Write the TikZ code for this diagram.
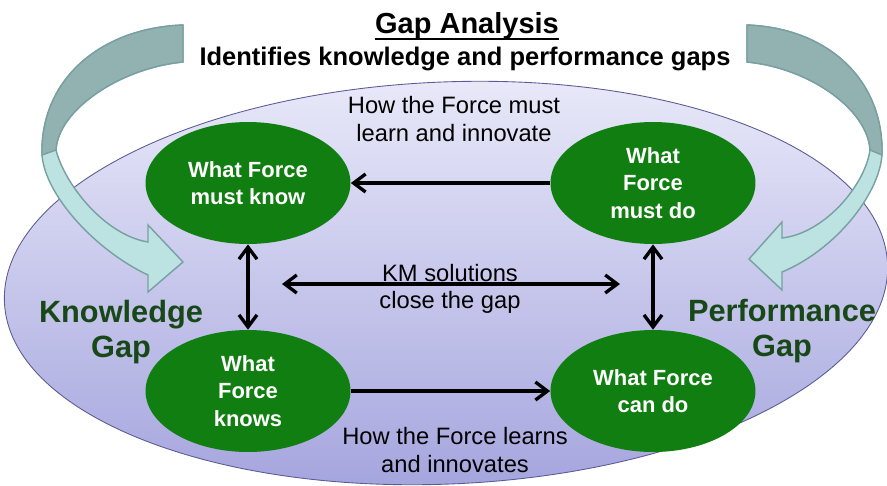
\documentclass[tikz,border=0pt]{standalone}
\usepackage{fontspec}
\setmainfont{Liberation Sans}
\usetikzlibrary{arrows.meta}
\usetikzlibrary{shapes.geometric}

\definecolor{forcegreen}{RGB}{16,126,16}
\definecolor{gapgreen}{RGB}{24,72,24}
\definecolor{lavtop}{RGB}{232,232,249}
\definecolor{lavbot}{RGB}{164,164,222}
\definecolor{lavline}{RGB}{92,92,148}
\definecolor{ribbonlight}{RGB}{188,226,226}
\definecolor{ribbondark}{RGB}{146,177,177}
\definecolor{ribbonline}{RGB}{120,160,160}

\tikzset{
  force/.style={ellipse, fill=forcegreen, text=white, minimum width=4.1cm, minimum height=2.44cm,
    inner sep=0pt, align=center, font=\fontsize{12.5}{15.6}\selectfont\bfseries},
  legende/.style={align=center, font=\fontsize{13.5}{15.4}\selectfont},
  ecart/.style={align=center, text=gapgreen, font=\fontsize{17.5}{19.4}\selectfont\bfseries},
  fleche/.style={line width=1.9pt, -{Straight Barb[length=2.4mm,width=3.6mm]}},
  double fleche/.style={line width=1.9pt, {Straight Barb[length=2.4mm,width=3.6mm]}-{Straight Barb[length=2.4mm,width=3.6mm]}},
  ruban/.style={draw=ribbonline, line width=0.8pt, fill=ribbonlight},
  ruban sombre/.style={draw=ribbonline, line width=0.8pt, fill=ribbondark}
}

\begin{document}
\begin{tikzpicture}[x=0.02cm, y=-0.02cm]
\useasboundingbox (0,0) rectangle (887,485);

%%% fond
\path[draw=lavline, line width=0.5pt, top color=lavtop, bottom color=lavbot,
  rotate around={2.5:(446,283)}] (446,283) ellipse [x radius=442, y radius=201];

%%% rubans

% gauche
\draw[ruban] (183,25) .. controls (100,28) and (40,80) .. (42,155)
  .. controls (45,195) and (95,250) .. (148,275) -- (148,292) -- (183,262) -- (148,225) -- (148,242)
  .. controls (105,235) and (65,185) .. (56,150) .. controls (58,110) and (120,68) .. (183,62) -- cycle;
\draw[ruban sombre] (183,25) .. controls (100,28) and (40,80) .. (42,155) -- (56,150)
  .. controls (58,110) and (120,68) .. (183,62) -- cycle;

% droite
\draw[ruban] (747,25) .. controls (828,28) and (884,80) .. (882,155)
  .. controls (879,195) and (835,250) .. (782,272) -- (782,290) -- (749,259) -- (782,222) -- (782,238)
  .. controls (825,233) and (865,185) .. (870,150) .. controls (868,110) and (810,68) .. (747,62) -- cycle;
\draw[ruban sombre] (747,25) .. controls (828,28) and (884,80) .. (882,155) -- (870,150)
  .. controls (868,110) and (810,68) .. (747,62) -- cycle;

%%% titres
\node[inner sep=0pt, anchor=base, font=\fontsize{16.5}{19}\selectfont\bfseries] (titre) at (467,33) {Gap Analysis};
\draw[line width=1.1pt] ([yshift=-0.12cm]titre.base west) -- ([yshift=-0.12cm]titre.base east);
\node[anchor=base, font=\fontsize{14.5}{17}\selectfont\bfseries] (soustitre) at (465,65) {Identifies knowledge and performance gaps};

%%% ellipses
\node[force] (mustknow) at (248,183) {What Force\\must know};
\node[force] (mustdo) at (653,183) {What\\Force\\must do};
\node[force] (knows) at (248,391) {What\\Force\\knows};
\node[force] (cando) at (653,391) {What Force\\can do};

%%% liens
\draw[fleche] (mustdo) -- (mustknow);
\draw[fleche] (knows) -- (cando);
\draw[double fleche] (mustknow) -- (knows);
\draw[double fleche] (mustdo) -- (cando);
\coordinate (kmgauche) at (282,284);
\coordinate (kmdroite) at (620,284);
\draw[double fleche] (kmgauche) -- (kmdroite);

%%% legendes
\node[legende] (apprendre) at (454,119) {How the Force must\\learn and innovate};
\node[legende] (km) at (450,289) {KM solutions\\close the gap};
\node[legende] (apprend) at (455,450) {How the Force learns\\and innovates};
\node[ecart] (knowledge) at (121,332) {Knowledge\\Gap};
\node[ecart] (performance) at (782,331) {Performance\\Gap};
\end{tikzpicture}
\end{document}
